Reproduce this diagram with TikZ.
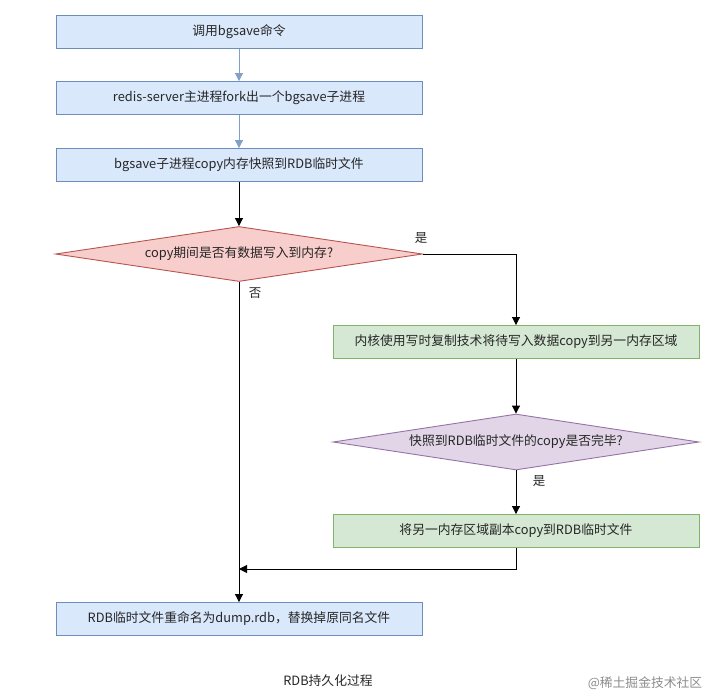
\documentclass[tikz,border=0pt]{standalone}
\usepackage{fontspec}
\setmainfont{Noto Sans CJK SC}
\usetikzlibrary{positioning,arrows.meta,shapes.geometric,calc}

\definecolor{bluefill}{HTML}{DAE8FC}
\definecolor{bluedraw}{HTML}{6C8EBF}
\definecolor{redfill}{HTML}{F8CECC}
\definecolor{reddraw}{HTML}{B85450}
\definecolor{greenfill}{HTML}{D5E8D4}
\definecolor{greendraw}{HTML}{82B366}
\definecolor{purplefill}{HTML}{E1D5E7}
\definecolor{purpledraw}{HTML}{9673A6}

\begin{document}
\begin{tikzpicture}[
  x=1pt, y=-1pt,
  >={Triangle[length=8pt,width=8pt]},
  line width=0.9pt,
  every node/.style={font=\fontsize{12.8}{15}\selectfont, text=black!85},
  bluebox/.style={rectangle, draw=bluedraw, fill=bluefill, minimum width=366pt, minimum height=33pt, inner sep=0pt},
  greenbox/.style={rectangle, draw=greendraw, fill=greenfill, minimum width=366pt, minimum height=33pt, inner sep=0pt},
  redcheck/.style={diamond, aspect=6.6, draw=reddraw, fill=redfill, minimum width=367pt, minimum height=55pt, inner sep=0pt},
  purplecheck/.style={diamond, aspect=6.6, draw=purpledraw, fill=purplefill, minimum width=366pt, minimum height=56pt, inner sep=0pt},
  bluearrow/.style={->, draw=bluedraw!85},
  flow/.style={->, draw=black},
  yesno/.style={font=\fontsize{12.5}{14}\selectfont}
]
\useasboundingbox (0,0) rectangle (718,697);

% --- Main column ---
\node[bluebox] (call)   at (239,32)  {调用bgsave命令};
\node[bluebox] (fork)   at (239,98)  {redis-server主进程fork出一个bgsave子进程};
\node[bluebox] (snap)   at (239,165) {bgsave子进程copy内存快照到RDB临时文件};
\node[redcheck] (write) at (239,254) {copy期间是否有数据写入到内存?};

% --- Copy-on-write branch ---
\node[greenbox] (cow)      at (516,342) {内核使用写时复制技术将待写入数据copy到另一内存区域};
\node[purplecheck] (done)  at (516,442) {快照到RDB临时文件的copy是否完毕?};
\node[greenbox] (copyback) at (516,531) {将另一内存区域副本copy到RDB临时文件};

% --- End ---
\node[bluebox] (rename) at (239,619) {RDB临时文件重命名为dump.rdb，替换掉原同名文件};
\coordinate (join) at (239,569);

% --- Connectors ---
\draw[bluearrow] (call) -- (fork);
\draw[bluearrow] (fork) -- (snap);
\draw[flow] (snap) -- (write);
\draw[flow] (write.east) -| (cow.north);
\draw[flow] (write.south) -- (rename.north);
\draw[flow] (cow) -- (done);
\draw[flow] (done) -- (copyback);
\draw[flow] (copyback.south) |- (join);

% --- Labels ---
\node[yesno] (yes1) at (421,238) {是};
\node[yesno] (no1)  at (255,293) {否};
\node[yesno] (yes2) at (539,481) {是};

\node (caption) at (328,681) {RDB持久化过程};
\node[text=black!45, font=\fontsize{12.8}{15}\selectfont] (mark) at (645,683) {@稀土掘金技术社区};

\end{tikzpicture}
\end{document}
